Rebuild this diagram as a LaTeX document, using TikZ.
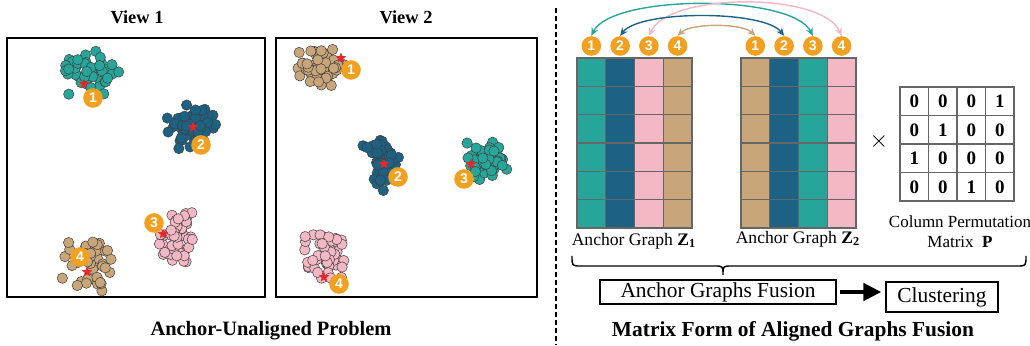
\documentclass[tikz,border=0pt]{standalone}
\usepackage{fontspec}
\setmainfont{Liberation Serif}
\newfontfamily\badgefont{Liberation Sans}
\usetikzlibrary{shapes.geometric,arrows.meta,positioning}
\definecolor{cteal}{RGB}{38,166,154}
\definecolor{cblue}{RGB}{27,98,133}
\definecolor{cpink}{RGB}{244,184,197}
\definecolor{ctan}{RGB}{200,166,122}
\definecolor{corange}{RGB}{241,160,32}
\definecolor{cred}{RGB}{228,40,44}
\tikzset{
    badge/.style={circle,fill=corange,text=white,inner sep=0pt,minimum size=9.8pt,
        font=\badgefont\bfseries\fontsize{7}{7}\selectfont},
    anchorstar/.style={star,star points=5,star point ratio=2.3,fill=cred,inner sep=0pt,minimum size=5.5pt},
    dot/.style={draw=black!75,line width=0.25pt},
    cell/.style={draw=black!60,line width=0.6pt},
    pcell/.style={draw=black!60,line width=0.6pt,minimum size=14.25pt,inner sep=0pt,
        text height=6.4pt,text depth=0pt,font=\bfseries\fontsize{9.5}{9.5}\selectfont},
    flowbox/.style={draw,line width=0.6pt,inner sep=0pt,font=\fontsize{10.7}{12}\selectfont},
    link/.style={line width=0.7pt,{Stealth[length=4pt,width=3.5pt]}-{Stealth[length=4pt,width=3.5pt]}},
}
\newcommand\blob[5]{%
    \foreach \k in {1,...,50}{
        \pgfmathsetmacro\dx{#3*(rand+rand)}
        \pgfmathsetmacro\dy{#4*(rand+rand)}
        \filldraw[dot,fill=#5] (#1+\dx,#2+\dy) circle[radius=2.6pt];
    }}
\begin{document}
\begin{tikzpicture}[x=0.5pt,y=-0.5pt]
    \useasboundingbox (0,0) rectangle (1030,346);
    \pgfmathsetseed{7}
    \node[font=\bfseries\fontsize{9.2}{10}\selectfont] (view1) at (137,17) {View 1};
    \node[font=\bfseries\fontsize{9.2}{10}\selectfont] (view2) at (406,17) {View 2};
    \draw[line width=0.6pt] (7,38) rectangle (265,297);
    \draw[line width=0.6pt] (276,38) rectangle (537,297);
    \blob{88}{72}{17}{13}{cteal}
    \blob{190}{125}{14}{13}{cblue}
    \blob{176}{238}{11}{16}{cpink}
    \blob{88}{264}{15}{14}{ctan}
    \blob{320}{68}{14}{12}{ctan}
    \blob{382}{162}{12}{15}{cblue}
    \blob{488}{161}{12}{12}{cteal}
    \blob{326}{256}{13}{15}{cpink}
    \node[anchorstar] (sa1) at (84,84) {};
    \node[anchorstar] (sa2) at (193,127) {};
    \node[anchorstar] (sa3) at (163,234) {};
    \node[anchorstar] (sa4) at (87,272) {};
    \node[anchorstar] (sb1) at (341,58) {};
    \node[anchorstar] (sb2) at (384,164) {};
    \node[anchorstar] (sb3) at (471,164) {};
    \node[anchorstar] (sb4) at (324,277) {};
    \node[badge] (ba1) at (93,98) {1};
    \node[badge] (ba2) at (201,145) {2};
    \node[badge] (ba3) at (154,223) {3};
    \node[badge] (ba4) at (80,257) {4};
    \node[badge] (bb1) at (351,70) {1};
    \node[badge] (bb2) at (398,177) {2};
    \node[badge] (bb3) at (464,179) {3};
    \node[badge] (bb4) at (339,284) {4};
    \node[font=\bfseries\fontsize{10.2}{12}\selectfont] (probcap) at (271,331) {Anchor-Unaligned Problem};
    \draw[line width=0.7pt,dash pattern=on 2.5pt off 1.5pt] (556,8) -- (556,345);
    \foreach \c [count=\j] in {cteal,cblue,cpink,ctan}{
        \foreach \r in {0,...,5}
            \filldraw[cell,fill=\c] (548.25+28.75*\j,58+28.33*\r) rectangle +(28.75,28.33);
        \node[badge] (za\j) at (562.6+28.75*\j,46) {\j};
    }
    \foreach \c [count=\j] in {ctan,cblue,cteal,cpink}{
        \foreach \r in {0,...,5}
            \filldraw[cell,fill=\c] (712.25+28.75*\j,58+28.33*\r) rectangle +(28.75,28.33);
        \node[badge] (zb\j) at (726.6+28.75*\j,46) {\j};
    }
    \draw[link,cteal] (za1.north) .. controls (612,-6) and (792,-6) .. (zb3.north);
    \draw[link,cpink] (za3.north) .. controls (670,-8) and (822,-8) .. (zb4.north);
    \draw[link,cblue] (za2.north) .. controls (640,10) and (764,10) .. (zb2.north);
    \draw[link,ctan] (za4.north) .. controls (691,23) and (742,23) .. (zb1.north);
    \node[font=\fontsize{8.8}{10}\selectfont] (zlab1) at (634,241) {Anchor Graph \textbf{Z}\textsubscript{\textbf{1}}};
    \node[font=\fontsize{8.8}{10}\selectfont] (zlab2) at (798,239) {Anchor Graph \textbf{Z}\textsubscript{\textbf{2}}};
    \node[font=\fontsize{12}{12}\selectfont] (mult) at (879,142) {$\times$};
    \foreach \row [count=\i] in {{0,0,0,1},{0,1,0,0},{1,0,0,0},{0,0,1,0}}
        \foreach \v [count=\j] in \row
            \node[pcell] (p\i\j) at (885.75+28.5*\j,72.75+28.5*\i) {\v};
    \node[font=\fontsize{8.5}{10}\selectfont,align=center] (pcap) at (960,232) {Column Permutation\\Matrix~~\textbf{P}};
    \draw[line width=0.7pt] (572,256) .. controls (572,266) .. (581,266) -- (714,266)
        .. controls (723,266) .. (723,275) .. controls (723,266) .. (732,266) -- (1017,266)
        .. controls (1026,266) .. (1026,256);
    \node[flowbox,minimum width=118pt,minimum height=12pt] (fusion) at (718,292) {Anchor Graphs Fusion};
    \node[flowbox,minimum width=56pt,minimum height=15pt] (clust) at (942,297) {Clustering};
    \draw[line width=2.4pt,-{Triangle[length=9pt,width=8.5pt]},shorten <=1.5pt,shorten >=2pt]
        (fusion.east) -- (fusion.east -| clust.west);
    \node[font=\bfseries\fontsize{10.7}{12}\selectfont] (fuscap) at (793,331) {Matrix Form of Aligned Graphs Fusion};
\end{tikzpicture}
\end{document}
